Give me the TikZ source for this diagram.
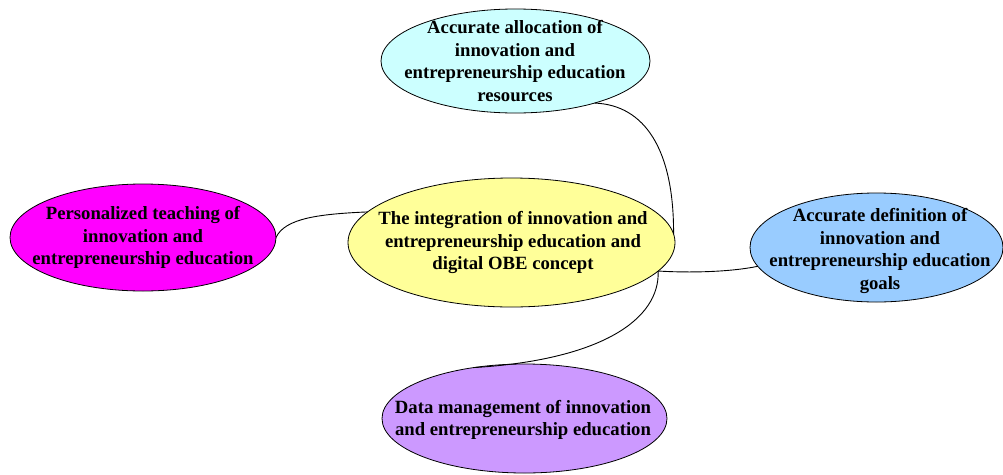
\documentclass[tikz,border=0pt]{standalone}
\usepackage{fontspec}
\setmainfont{Liberation Serif}
\usetikzlibrary{shapes.geometric}

\definecolor{resfill}{HTML}{CCFFFF}
\definecolor{perfill}{HTML}{FF00FF}
\definecolor{corefill}{HTML}{FFFF99}
\definecolor{goalfill}{HTML}{99CCFF}
\definecolor{datafill}{HTML}{CC99FF}

\tikzset{
  bubble/.style={ellipse, draw=black, line width=0.8pt, inner sep=0pt, outer sep=0pt},
  caption/.style={align=center, inner sep=0pt,
    font=\fontsize{18.7}{22.5}\selectfont\bfseries},
  link/.style={draw=black, line width=0.9pt},
}

\begin{document}
\begin{tikzpicture}[x=1pt, y=-1pt]
  \useasboundingbox (0,0) rectangle (1003,474);

  % ellipses
  \node[bubble, fill=resfill,  minimum width=269pt, minimum height=104pt] (res)  at (515.5,61)    {};
  \node[bubble, fill=perfill,  minimum width=266pt, minimum height=107pt] (pers) at (143,237.5)   {};
  \node[bubble, fill=corefill, minimum width=327pt, minimum height=129pt] (core) at (511.5,242.5) {};
  \node[bubble, fill=goalfill, minimum width=253pt, minimum height=109pt] (goal) at (876.5,247.5) {};
  \node[bubble, fill=datafill, minimum width=285pt, minimum height=109pt] (data) at (524.5,418.5) {};

  % connectors
  \draw[link] (res.-28.7) .. controls (645,105) and (674,150) .. (core.3.7);
  \draw[link] (pers.east) .. controls (285,218) and (320,214) .. (core.168.5);
  \draw[link] (core.-11.8) .. controls (690,273) and (730,272) .. (goal.-171.5);
  \draw[link] (core.-11.8) .. controls (660,320) and (600,360) .. (data.135.5);

  % texts
  \node[caption] (res-t)  at (515,61)    {Accurate allocation of\\innovation and\\entrepreneurship education\\resources};
  \node[caption] (pers-t) at (143,237.5) {Personalized teaching of\\innovation and\\entrepreneurship education};
  \node[caption] (core-t) at (513,242.5) {The integration of innovation and\\entrepreneurship education and\\digital OBE concept};
  \node[caption] (goal-t) at (880,250.8) {Accurate definition of\\innovation and\\entrepreneurship education\\goals};
  \node[caption] (data-t) at (523,420)   {Data management of innovation\\and entrepreneurship education};
\end{tikzpicture}
\end{document}
